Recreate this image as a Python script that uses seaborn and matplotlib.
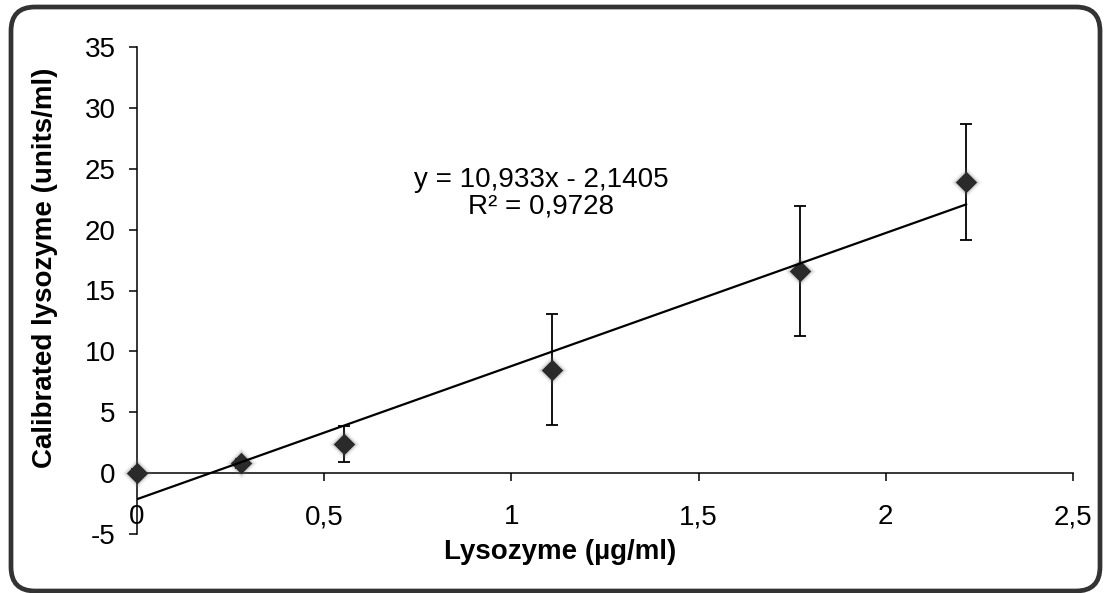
import matplotlib
matplotlib.use("Agg")
import matplotlib.pyplot as plt
import matplotlib.patches as mpatches
import matplotlib.transforms as mtransforms
import numpy as np
import pandas as pd
import seaborn as sns

# ---- data ----
lysozyme_conc = [0.0, 0.277, 0.554, 1.108, 1.772, 2.215]      # µg/ml
calibrated = [0.0, 0.8, 2.4, 8.5, 16.6, 23.9]                  # units/ml
error = [0.3, 0.4, 1.5, 4.55, 5.35, 4.75]
slope = 10.933
intercept = -2.1405
r_squared = 0.9728
x_ticks = [0, 0.5, 1, 1.5, 2, 2.5]
x_tick_labels = ["0", "0,5", "1", "1,5", "2", "2,5"]
y_ticks = [-5, 0, 5, 10, 15, 20, 25, 30, 35]
y_tick_labels = ["-5", "0", "5", "10", "15", "20", "25", "30", "35"]

df = pd.DataFrame({"conc": lysozyme_conc, "cal": calibrated, "err": error})
fit_x = [min(lysozyme_conc), max(lysozyme_conc)]
fit_df = pd.DataFrame({"x": fit_x, "y": [slope * v + intercept for v in fit_x]})

sns.set_style("white")
plt.rcParams["font.family"] = ["Liberation Sans", "DejaVu Sans"]

W, H, DPI = 1108, 593, 100
fig = plt.figure(figsize=(W / DPI, H / DPI), dpi=DPI)
ax = fig.add_axes([137 / W, (H - 534) / H, 936 / W, 487 / H])
ax.set_facecolor("white")

# error bars
ax.errorbar(df["conc"], df["cal"], yerr=df["err"], fmt="none", ecolor="black",
            elinewidth=1.3, capsize=4.5, capthick=1.3, zorder=2, clip_on=False)

# soft shadow around markers
sns.scatterplot(data=df, x="conc", y="cal", marker="D", s=250, color="#888888",
                alpha=0.10, linewidth=0, ax=ax, zorder=3, clip_on=False, legend=False)
sns.scatterplot(data=df, x="conc", y="cal", marker="D", s=175, color="#555555",
                alpha=0.18, linewidth=0, ax=ax, zorder=3, clip_on=False, legend=False)
# markers
sns.scatterplot(data=df, x="conc", y="cal", marker="D", s=120, color="#2a2a2a",
                linewidth=0, ax=ax, zorder=4, clip_on=False, legend=False)

# trendline
sns.lineplot(data=fit_df, x="x", y="y", color="black", linewidth=1.6, ax=ax,
             zorder=5, legend=False)

ax.set_xlim(0, 2.5)
ax.set_ylim(-5, 35)
ax.set_xticks(x_ticks)
ax.set_xticklabels(x_tick_labels)
ax.set_yticks(y_ticks)
ax.set_yticklabels(y_tick_labels)

for s in ["top", "right"]:
    ax.spines[s].set_visible(False)
ax.spines["bottom"].set_position(("data", 0))
for s in ["left", "bottom"]:
    ax.spines[s].set_color("black")
    ax.spines[s].set_linewidth(1.1)

ax.tick_params(axis="x", direction="out", length=5.5, width=1.1, color="black",
               pad=17, labelsize=20, labelcolor="black", bottom=True)
ax.tick_params(axis="y", direction="out", length=5.5, width=1.1, color="black",
               pad=10, labelsize=20, labelcolor="black", left=True)

ax.set_xlabel("Lysozyme (µg/ml)", fontsize=20, fontweight="bold", color="black")
ax.xaxis.set_label_coords(0.452, -0.037)
ax.xaxis.label.set_va("center")
ax.set_ylabel("Calibrated lysozyme (units/ml)", fontsize=20, fontweight="bold",
              color="black")
ax.yaxis.set_label_coords(-0.098, 0.547)
ax.yaxis.label.set_va("center")

eq = "y = {:.3f}x - {:.4f}".format(slope, abs(intercept)).replace(".", ",")
r2 = "R² = {:.4f}".format(r_squared).replace(".", ",")
ax.text(1.079, 24.1, eq, ha="center", va="center", fontsize=20, color="black")
ax.text(1.079, 21.9, r2, ha="center", va="center", fontsize=20, color="black")

# rounded outer border
border = mpatches.FancyBboxPatch((11, 2), 1089, 584,
                                 boxstyle="round,pad=0,rounding_size=24",
                                 transform=mtransforms.IdentityTransform(),
                                 facecolor="none", edgecolor="#333333",
                                 linewidth=3.4, clip_on=False)
fig.add_artist(border)

fig.savefig("out.png", dpi=DPI, facecolor="white")
